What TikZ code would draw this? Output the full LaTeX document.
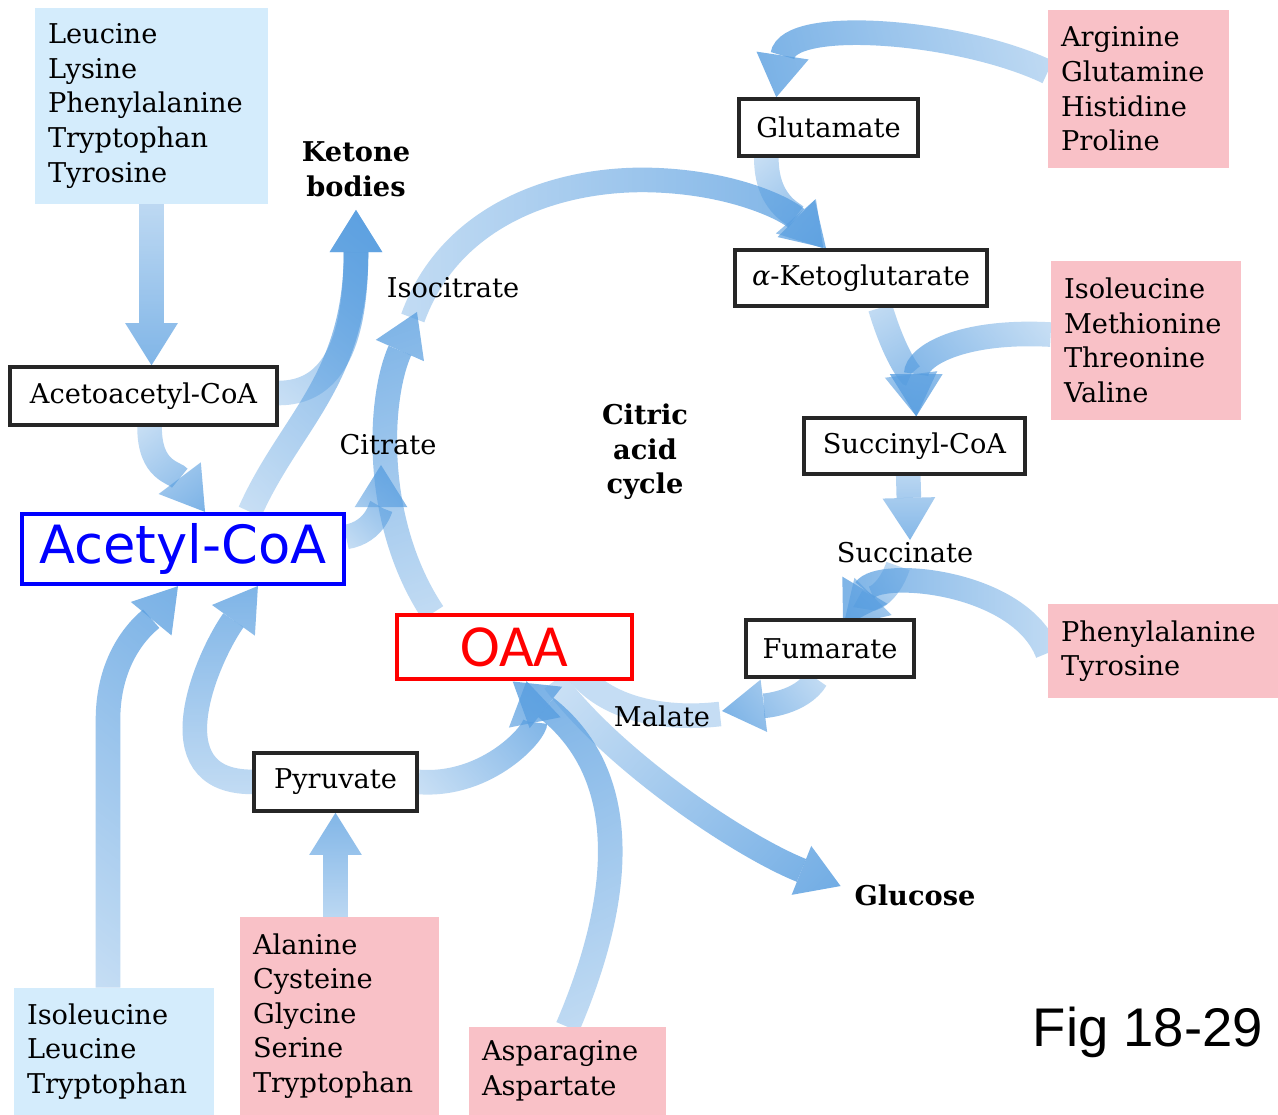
\documentclass[tikz,border=0pt]{standalone}
\usepackage{fontspec}
\setmainfont{DejaVu Serif}
\newfontfamily\acfont{DejaVu Sans}
\newfontfamily\oaafont{Carlito}
\newfontfamily\figfont{Liberation Sans}
\usetikzlibrary{arrows.meta,calc,fadings}

\definecolor{ketoblue}{RGB}{212,236,252}
\definecolor{glucopink}{RGB}{249,193,199}
\definecolor{flowblue}{RGB}{88,158,224}

\newcommand\listfont{\fontsize{15.5}{19.7}\selectfont}

\pgfdeclarelayer{background}
\pgfsetlayers{background,main}

\begin{tikzfadingfrompicture}[name=flowfade]
  \fill[transparent!85] (-150bp,-150bp) rectangle (-50bp,150bp);
  \fill[transparent!0] (50bp,-150bp) rectangle (150bp,150bp);
  \shade[left color=transparent!85, right color=transparent!0] (-50bp,-150bp) rectangle (50bp,150bp);
\end{tikzfadingfrompicture}

\tikzset{
  amino/.style={rectangle, inner sep=0pt, align=left, font=\listfont},
  ketogenic/.style={amino, fill=ketoblue},
  glucogenic/.style={amino, fill=glucopink},
  metab/.style={rectangle, draw=black!85, line width=2pt, fill=white, inner sep=0pt, font=\listfont},
  inter/.style={font=\listfont, inner sep=0pt},
  sink/.style={font=\listfont\bfseries, align=center, inner sep=0pt},
  flow/.style={line width=14pt, draw=flowblue, -{Triangle[width=30pt,length=24pt,line width=0pt]}, path fading=flowfade, fading angle=#1},
}

\begin{document}
\begin{tikzpicture}[x=0.02cm,y=-0.02cm]
  \useasboundingbox (0,0) rectangle (1278,1115);

  % amino acid groups
  \node[ketogenic, minimum width=4.66cm, minimum height=3.92cm, text width=4.14cm] (ketoList) at (151.5,106) {Leucine\\Lysine\\Phenylalanine\\Tryptophan\\Tyrosine};
  \node[ketogenic, minimum width=4cm, minimum height=2.54cm, text width=3.48cm] (leuList) at (114,1051.5) {Isoleucine\\Leucine\\Tryptophan};
  \node[glucogenic, minimum width=3.62cm, minimum height=3.16cm, text width=3.1cm] (argList) at (1138.5,89) {Arginine\\Glutamine\\Histidine\\Proline};
  \node[glucogenic, minimum width=3.8cm, minimum height=3.18cm, text width=3.28cm] (ileList) at (1146,340.5) {Isoleucine\\Methionine\\Threonine\\Valine};
  \node[glucogenic, minimum width=4.6cm, minimum height=1.88cm, text width=4.08cm] (pheList) at (1163,651) {Phenylalanine\\Tyrosine};
  \node[glucogenic, minimum width=3.98cm, minimum height=3.96cm, text width=3.46cm] (alaList) at (339.5,1016) {Alanine\\Cysteine\\Glycine\\Serine\\Tryptophan};
  \node[glucogenic, minimum width=3.94cm, minimum height=1.76cm, text width=3.42cm] (asnList) at (567.5,1071) {Asparagine\\Aspartate};

  % intermediates
  \node[metab, minimum width=5.34cm, minimum height=1.16cm] (acac) at (143.5,396) {Acetoacetyl-CoA};
  \node[metab, minimum width=3.26cm, minimum height=1.16cm] (pyr) at (335.5,782) {Pyruvate};
  \node[metab, minimum width=3.58cm, minimum height=1.14cm] (glu) at (828.5,127.5) {Glutamate};
  \node[metab, minimum width=5.04cm, minimum height=1.12cm] (akg) at (861,278) {\textit{α}-Ketoglutarate};
  \node[metab, minimum width=4.42cm, minimum height=1.12cm] (succoa) at (914.5,446) {Succinyl-CoA};
  \node[metab, minimum width=3.36cm, minimum height=1.14cm] (fum) at (830,648.5) {Fumarate};
  \node[draw=blue, line width=2.4pt, fill=white, minimum width=6.44cm, minimum height=1.4cm, inner sep=0pt, text=blue, font=\acfont\fontsize{30}{36}\selectfont] (acetyl) at (183,549) {Acetyl-CoA};
  \node[draw=red, line width=2.4pt, fill=white, minimum width=4.7cm, minimum height=1.28cm, inner sep=0pt, text=red, font=\oaafont\fontsize{34}{40}\selectfont] (oaa) at (514.5,647) {OAA};

  \node[sink] (ketone) at (356,169) {Ketone\\bodies};
  \node[sink] (cycle) at (645,452) {Citric\\acid\\cycle};
  \node[sink] (glc) at (915,895) {Glucose};
  \node[inter] (isocit) at (453,288) {Isocitrate};
  \node[inter] (citrate) at (388,445) {Citrate};
  \node[inter] (succ) at (905,553) {Succinate};
  \node[inter] (mal) at (662,716) {Malate};
  \node[font=\figfont\fontsize{31}{36}\selectfont] (fig) at (1148,1032) {Fig 18-29};

  \coordinate (cyctop) at (650,180);

  \begin{pgfonlayer}{background}
    \fill[white] (0,0) rectangle (1278,1115);
    \draw[flow=-90] (ketoList.south) -- (ketoList.south |- acac.north);
    \draw[flow=70] ($(acac.east)+(0,-3)$) .. controls +(50,0) and +(0,140) .. ($(ketone.center)+(0,41)$);
    \draw[flow=70] ($(acetyl.north)+(67,0)$) .. controls +(40,-90) and +(0,170) .. ($(ketone.center)+(0,41)$);
    \draw[flow=-60] ($(acac.south)+(6,0)$) .. controls +(0,45) and +(-30,-40) .. ($(acetyl.north)+(22,0)$);
    \draw[flow=60] ($(acetyl.east)+(0,-12)$) .. controls +(30,-5) and +(0,40) .. ($(citrate.center)+(-7,20)$);
    \draw[flow=95] ($(oaa.north west)+(38,0)$) .. controls +(-60,-90) and +(-39,88) .. ($(isocit.center)+(-36,24)$);
    \draw[flow=0] ($(isocit.center)+(-40,30)$) .. controls +(38,-105) and +(-90,-2) .. (cyctop)
      .. controls +(85,2) and +(-38,-38) .. ($(akg.north west)+(93,0)$);
    \draw[flow=185] ($(argList.west)+(0,-17)$) .. controls +(-88,-42) and +(12,-80) .. ($(glu.north west)+(39,0)$);
    \draw[flow=-60] ($(glu.south west)+(29,0)$) .. controls +(0,45) and +(-30,-35) .. ($(akg.north west)+(90,0)$);
    \draw[flow=-75] ($(akg.south west)+(147,0)$) .. controls +(15,50) and +(-5,-40) .. ($(succoa.north west)+(114,0)$);
    \draw[flow=210] ($(ileList.west)+(0,-6)$) .. controls +(-90,-5) and +(0,-60) .. ($(succoa.north west)+(114,0)$);
    \draw[flow=-90] ($(succoa.south west)+(106,0)$) -- ($(succ.center)+(5,-13)$);
    \draw[flow=230] ($(succ.center)+(-7,13)$) .. controls +(-10,30) and +(25,-25) .. ($(fum.north west)+(99,8)$);
    \draw[flow=180] ($(pheList.west)+(0,2)$) .. controls +(-28,-73) and +(35,-58) .. ($(fum.north west)+(99,8)$);
    \draw[flow=200] ($(fum.south west)+(72,0)$) .. controls +(-15,25) and +(40,-5) .. ($(mal.center)+(60,-5)$);
    \draw[line width=14pt, draw=flowblue!35] ($(mal.center)+(58,-2)$) .. controls +(-70,8) and +(20,35) .. ($(oaa.south)+(60,-15)$);
    \draw[flow=-35] ($(oaa.south)+(40,0)$) .. controls +(60,80) and +(-100,-40) .. ($(glc.center)+(-74,-9)$);
    \draw[flow=90] (pyr.west) .. controls +(-100,0) and +(-50,70) .. ($(acetyl.south)+(75,0)$);
    \draw[flow=80] ($(leuList.north)+(-6,0)$) -- ++(0,-268) .. controls +(0,-70) and +(-28,34) .. ($(acetyl.south)+(-5,0)$);
    \draw[flow=90] (alaList.north -| pyr.south) -- (pyr.south);
    \draw[flow=40] (pyr.east) .. controls +(70,5) and +(10,50) .. ($(oaa.south)+(12,0)$);
    \draw[flow=100] (asnList.north) .. controls +(60,-140) and +(115,90) .. ($(oaa.south)+(-2,0)$);
  \end{pgfonlayer}
\end{tikzpicture}
\end{document}
